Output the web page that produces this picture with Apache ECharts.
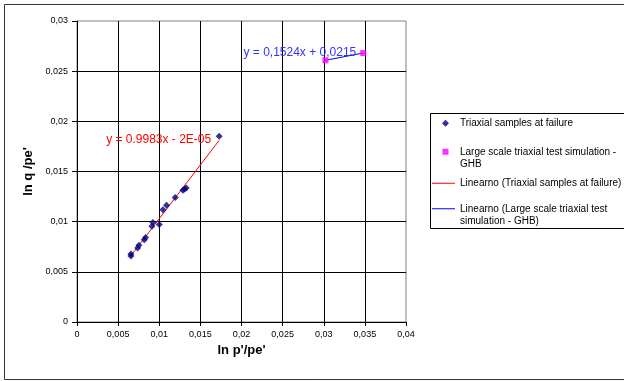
<!DOCTYPE html>
<html>
<head>
<meta charset="utf-8">
<script src="https://cdn.jsdelivr.net/npm/echarts@6/dist/echarts.min.js"></script>
<style>html,body{margin:0;padding:0;background:#fff}#c{width:624px;height:381px}</style>
</head>
<body>
<div id="c"></div>
<script>
// Triaxial samples at failure
const triaxX = [0.00656, 0.00656, 0.00737, 0.00753, 0.00818, 0.00834, 0.00911, 0.00923, 0.0100, 0.01045, 0.01089, 0.01194, 0.01288, 0.01307, 0.01328, 0.01729];
const triaxY = [0.00658, 0.00678, 0.00738, 0.00765, 0.00821, 0.00841, 0.00954, 0.00991, 0.00971, 0.0112, 0.01163, 0.0124, 0.01313, 0.01326, 0.01336, 0.01851];
// Large scale triaxial test simulation - GHB
const ghbX = [0.0302, 0.0348];
const ghbY = [0.02608, 0.02681];
// Trendline equations as printed on the chart
const redLabel = 'y = 0.9983x - 2E-05';
const blueLabel = 'y = 0,1524x + 0,0215';
const xTicks = ['0','0,005','0,01','0,015','0,02','0,025','0,03','0,035','0,04'];
const yTicks = ['0','0,005','0,01','0,015','0,02','0,025','0,03'];

const names = [
  'Triaxial samples at failure',
  'Large scale triaxial test simulation -\nGHB',
  'Linearno (Triaxial samples at failure)',
  'Linearno (Large scale triaxial test\nsimulation - GHB)'
];

// linear least-squares trendline ("Linearno") over the data range
function trendData(xs, ys) {
  const n = xs.length;
  const mx = xs.reduce((a, b) => a + b, 0) / n;
  const my = ys.reduce((a, b) => a + b, 0) / n;
  let sxy = 0, sxx = 0;
  for (let i = 0; i < n; i++) { sxy += (xs[i] - mx) * (ys[i] - my); sxx += (xs[i] - mx) * (xs[i] - mx); }
  const k = sxy / sxx, b = my - k * mx;
  const x0 = Math.min(...xs), x1 = Math.max(...xs);
  return [[x0, k * x0 + b], [x1, k * x1 + b]];
}
const FONT = 'Arial, "Liberation Sans", sans-serif';
const chart = echarts.init(document.getElementById('c'), null, {renderer: 'canvas'});

// legend icons drawn inside a 23x7 box (invisible zero-length segments pin the box corners)
const ICON_DIAMOND = 'path://M0,0L0,0M23,7L23,7M13.5,0L17,3.5L13.5,7L10,3.5Z';
const ICON_SQUARE = 'path://M0,0L0,0M23,7L23,7M10.5,0.5L16.5,0.5L16.5,6.5L10.5,6.5Z';

const legText = {fontFamily: FONT, fontSize: 10, color: '#000', lineHeight: 12.5};
function leg(item, top, opts) {
  return Object.assign({
    left: 432, top: top, padding: 0, orient: 'vertical',
    itemWidth: 23, itemHeight: 7, selectedMode: false, symbolKeepAspect: false,
    textStyle: legText,
    data: [item]
  }, opts || {});
}

function endLabel(text, dist, off, color) {
  return {show: true, formatter: text, position: 'left', distance: dist, offset: off,
    fontFamily: FONT, fontSize: 12, color: color};
}

const option = {
  animation: false,
  backgroundColor: '#fff',
  grid: {left: 77, top: 21, right: 218, bottom: 59, show: true, borderColor: '#808080', borderWidth: 1, backgroundColor: 'transparent'},
  xAxis: {
    type: 'value', min: 0, max: 0.04, interval: 0.005,
    name: "ln p'/pe'", nameLocation: 'middle', nameGap: 21,
    nameTextStyle: {fontFamily: FONT, fontSize: 13, fontWeight: 'bold', color: '#000'},
    axisLine: {show: true, lineStyle: {color: '#000', width: 1}},
    axisTick: {show: true, length: 4, lineStyle: {color: '#000'}},
    axisLabel: {fontFamily: FONT, fontSize: 9, color: '#000', margin: 8,
      formatter: (v) => xTicks[Math.round(v / 0.005)]},
    splitLine: {show: true, showMinLine: false, showMaxLine: false, lineStyle: {color: '#000', width: 1}}
  },
  yAxis: {
    type: 'value', min: 0, max: 0.03, interval: 0.005,
    name: "ln q /pe'", nameLocation: 'middle', nameGap: 36,
    nameTextStyle: {fontFamily: FONT, fontSize: 13, fontWeight: 'bold', color: '#000'},
    axisLine: {show: true, lineStyle: {color: '#000', width: 1}},
    axisTick: {show: true, length: 5, lineStyle: {color: '#000'}},
    axisLabel: {fontFamily: FONT, fontSize: 9, color: '#000', margin: 9,
      formatter: (v) => yTicks[Math.round(v / 0.005)]},
    splitLine: {show: true, showMinLine: false, showMaxLine: false, lineStyle: {color: '#000', width: 1}}
  },
  legend: [
    leg({name: names[0], icon: ICON_DIAMOND}, 117),
    leg({name: names[1], icon: ICON_SQUARE}, 133, {formatter: (n) => '\n' + n}),
    leg({name: names[2], icon: 'rect'}, 177, {itemHeight: 1}),
    leg({name: names[3], icon: 'rect'}, 190, {itemHeight: 1, formatter: (n) => '\n' + n})
  ],
  graphic: [
    {type: 'rect', shape: {x: 4.5, y: 4.5, width: 640, height: 375}, style: {fill: 'none', stroke: '#333', lineWidth: 1}, silent: true, z: -10},
    {type: 'rect', shape: {x: 430.5, y: 113.5, width: 300, height: 115}, style: {fill: 'none', stroke: '#000', lineWidth: 1}, silent: true, z: -10}
  ],
  series: [
    {
      name: names[0], type: 'scatter', symbol: 'diamond', symbolSize: 7,
      itemStyle: {color: '#000080'},
      data: triaxX.map((x, i) => [x, triaxY[i]]), z: 5
    },
    {
      name: names[1], type: 'scatter', symbol: 'rect', symbolSize: 6,
      itemStyle: {color: '#FF00FF'},
      data: ghbX.map((x, i) => [x, ghbY[i]]), z: 5
    },
    {
      name: names[2], type: 'line', symbol: 'circle', symbolSize: 0, showSymbol: true,
      lineStyle: {color: '#FF0000', width: 1}, itemStyle: {color: '#FF0000'},
      label: {show: false},
      data: trendData(triaxX, triaxY).map((p, i) => i === 1 ? {value: p, label: endLabel(redLabel, 8, [0, -1], '#FF0000')} : p),
      z: 4
    },
    {
      name: names[3], type: 'line', symbol: 'circle', symbolSize: 0, showSymbol: true,
      lineStyle: {color: '#0000FF', width: 1}, itemStyle: {color: '#0000FF'},
      label: {show: false},
      data: trendData(ghbX, ghbY).map((p, i) => i === 1 ? {value: p, label: endLabel(blueLabel, 7, [0, 0], '#3333FF')} : p),
      z: 4
    }
  ]
};
chart.setOption(option);
</script>
</body>
</html>
